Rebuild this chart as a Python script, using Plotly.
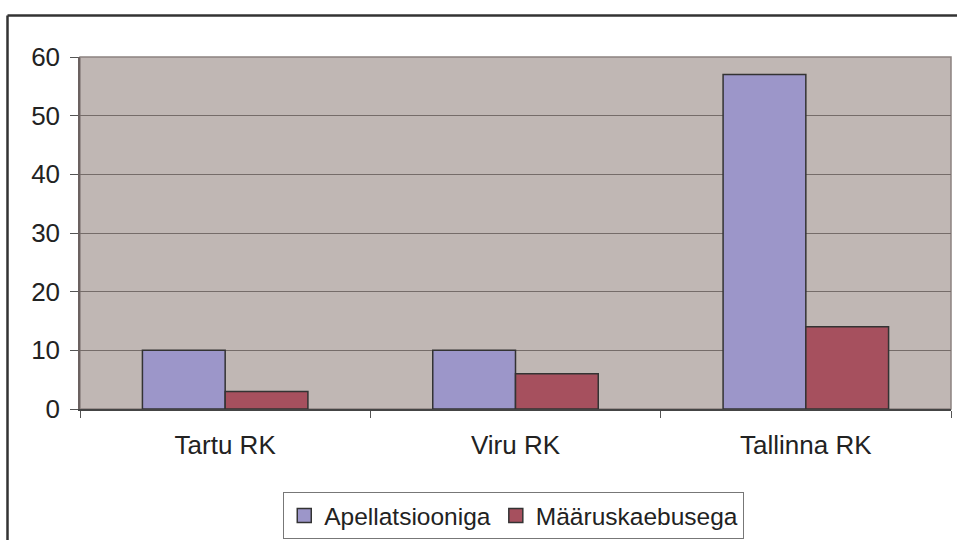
import plotly.graph_objects as go

# Court cases by regional court
courts = ["Tartu RK", "Viru RK", "Tallinna RK"]
apellatsiooniga = [10, 10, 57]
maaruskaebusega = [3, 6, 14]
y_ticks = [0, 10, 20, 30, 40, 50, 60]

FONT = "Liberation Sans, Arial, sans-serif"
PURPLE = "#9C96C9"
RED = "#A6505E"
EDGE = "#333333"

fig = go.Figure()
fig.add_trace(go.Bar(
    name="Apellatsiooniga", x=courts, y=apellatsiooniga,
    marker=dict(color=PURPLE, line=dict(color=EDGE, width=1.5)),
    showlegend=False,
))
fig.add_trace(go.Bar(
    name="Määruskaebusega", x=courts, y=maaruskaebusega,
    marker=dict(color=RED, line=dict(color=EDGE, width=1.5)),
    showlegend=False,
))
# legend keys with larger square swatches
for name, col in [("Apellatsiooniga", PURPLE), ("Määruskaebusega", RED)]:
    fig.add_trace(go.Scatter(
        name=name, x=[None], y=[None], mode="markers",
        marker=dict(symbol="square", size=14, color=col,
                    line=dict(color=EDGE, width=1.5)),
        showlegend=True, hoverinfo="skip",
    ))

W, H = 957, 540
L, R, T, B = 80, 6, 57, 131

def px_x(v):
    return (v - L) / (W - L - R)

def px_y(v):
    return (H - B - v) / (H - T - B)

fig.update_layout(
    width=W, height=H,
    margin=dict(l=L, r=R, t=T, b=B, autoexpand=False),
    paper_bgcolor="white",
    plot_bgcolor="#C0B7B4",
    barmode="group",
    bargap=0.43,
    bargroupgap=0,
    font=dict(family=FONT, size=26, color="#222222"),
    showlegend=True,
    legend=dict(
        orientation="h",
        x=0.498, xanchor="center",
        yref="container", y=1 - 492 / H, yanchor="top",
        bordercolor="#777777", borderwidth=1,
        bgcolor="white",
        font=dict(family=FONT, size=24.5, color="#222222"),
        itemwidth=30,
        tracegroupgap=0,
    ),
    xaxis=dict(
        type="category",
        tickson="boundaries",
        ticks="outside", ticklen=7, tickcolor="#555555",
        showline=True, linecolor="#444444", linewidth=1.5,
        showgrid=False,
        tickfont=dict(family=FONT, size=26, color="#222222"),
        ticklabelstandoff=12,
    ),
    yaxis=dict(
        range=[0, 60],
        tickvals=y_ticks,
        ticks="outside", ticklen=8, tickcolor="#555555",
        showline=True, linecolor="#6b6160", linewidth=1.5,
        showgrid=True, gridcolor="#756c69", gridwidth=1,
        zeroline=False,
        tickfont=dict(family=FONT, size=26, color="#222222"),
        ticklabelstandoff=5,
    ),
    shapes=[
        # plot area border
        dict(type="rect", xref="paper", yref="paper", x0=0, y0=0, x1=1, y1=1,
             line=dict(color="#8c8380", width=1.5), layer="below"),
        # outer chart frame (left and top edges)
        dict(type="line", xref="paper", yref="paper",
             x0=px_x(7.5), y0=px_y(15.5), x1=px_x(7.5), y1=px_y(545),
             line=dict(color="#333333", width=2.5)),
        dict(type="line", xref="paper", yref="paper",
             x0=px_x(7.5), y0=px_y(15.5), x1=px_x(962), y1=px_y(15.5),
             line=dict(color="#333333", width=2.5)),
    ],
)

fig.write_html("out.html")
